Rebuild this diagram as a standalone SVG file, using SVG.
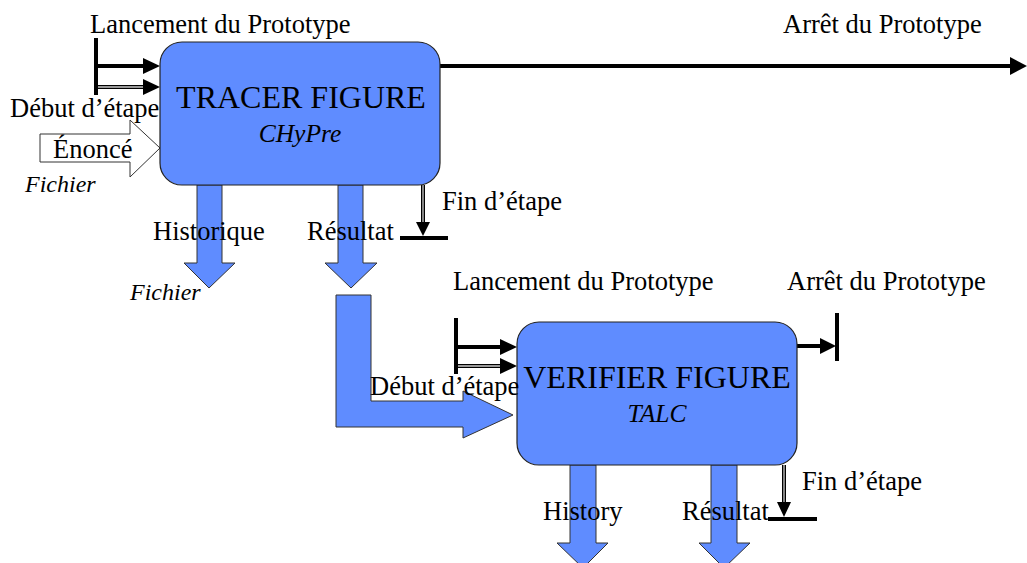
<svg xmlns="http://www.w3.org/2000/svg" width="1027" height="563" viewBox="0 0 1027 563">
<style>
.box{fill:#5F8CFF;stroke:#222;stroke-width:1.2}
.blk{fill:#5F8CFF;stroke:#333;stroke-width:1}
.wblk{fill:#fff;stroke:#333;stroke-width:1}
.t{font-family:"Liberation Serif","Times New Roman",serif;font-size:26.5px;fill:#000}
.i{font-family:"Liberation Serif","Times New Roman",serif;font-size:24px;font-style:italic;fill:#000}
.big{font-family:"Liberation Serif","Times New Roman",serif;font-size:32px;fill:#000;text-anchor:middle}
.sub{font-family:"Liberation Serif","Times New Roman",serif;font-size:25.5px;font-style:italic;fill:#000;text-anchor:middle}
.thick{stroke:#000;stroke-width:4;fill:none}
.dbl{stroke:#000;stroke-width:4;fill:none}
.dbli{stroke:#ccc;stroke-width:1.3;fill:none}
.head{fill:#000}
</style>
<g id="connectors">
  <line class="thick" x1="96" y1="38" x2="96" y2="95"/>
  <line class="thick" x1="96" y1="66" x2="145" y2="66"/>
  <polygon class="head" points="143,58 160,66 143,74"/>
  <line class="dbl" x1="96" y1="87" x2="145" y2="87"/>
  <line class="dbli" x1="98" y1="87" x2="145" y2="87"/>
  <polygon class="head" points="143,79 160,87 143,95"/>
  <line class="thick" x1="440" y1="66" x2="1012" y2="66"/>
  <polygon class="head" points="1010,57 1027,66 1010,75"/>
  <line class="dbl" x1="423" y1="185" x2="423" y2="224"/>
  <line class="dbli" x1="423" y1="185" x2="423" y2="224"/>
  <polygon class="head" points="416,222 430,222 423,236"/>
  <rect x="400" y="236" width="48" height="4" fill="#000"/>
  <line class="thick" x1="456" y1="318" x2="456" y2="374"/>
  <line class="thick" x1="456" y1="347" x2="502" y2="347"/>
  <polygon class="head" points="500,339 517,347 500,355"/>
  <line class="dbl" x1="456" y1="366" x2="502" y2="366"/>
  <line class="dbli" x1="458" y1="366" x2="502" y2="366"/>
  <polygon class="head" points="500,358 517,366 500,374"/>
  <line class="thick" x1="797" y1="346" x2="822" y2="346"/>
  <polygon class="head" points="820,338 836,346 820,354"/>
  <line class="thick" x1="837" y1="313" x2="837" y2="361"/>
  <line class="dbl" x1="784" y1="465" x2="784" y2="504"/>
  <line class="dbli" x1="784" y1="465" x2="784" y2="504"/>
  <polygon class="head" points="777,502 791,502 784,517"/>
  <rect x="768" y="517" width="49" height="4" fill="#000"/>
  <polygon class="wblk" points="40,134 130,134 130,120 160,148 130,177 130,162 40,162"/>
  <polygon class="blk" points="197,185 222,185 222,263 235,263 209,288 184,263 197,263"/>
  <polygon class="blk" points="338,185 363,185 363,263 377,263 351,288 325,263 338,263"/>
  <polygon class="blk" points="336,295 371,295 371,401 463,401 463,391 513,415 463,438 463,427 336,427"/>
  <polygon class="blk" points="570,465 596,465 596,543 608,543 583,568 557,543 570,543"/>
  <polygon class="blk" points="711,465 737,465 737,543 750,543 724,568 699,543 711,543"/>
</g>
<g id="node-tracer">
  <rect class="box" x="160" y="42" width="280" height="143" rx="22"/>
  <text class="big" x="301" y="108">TRACER FIGURE</text>
  <text class="sub" x="300" y="142">CHyPre</text>
</g>
<g id="node-verifier">
  <rect class="box" x="517" y="322" width="280" height="143" rx="22"/>
  <text class="big" x="657" y="388">VERIFIER FIGURE</text>
  <text class="sub" x="657" y="422">TALC</text>
</g>
<g id="labels">
  <text class="t" x="90" y="33">Lancement du Prototype</text>
  <text class="t" x="783" y="33">Arrêt du Prototype</text>
  <text class="t" x="10" y="117">Début d’étape</text>
  <text class="t" x="53" y="158">Énoncé</text>
  <text class="i" x="25" y="192">Fichier</text>
  <text class="t" x="442" y="210">Fin d’étape</text>
  <text class="t" x="153" y="240">Historique</text>
  <text class="t" x="307" y="240">Résultat</text>
  <text class="i" x="130" y="300">Fichier</text>
  <text class="t" x="453" y="290">Lancement du Prototype</text>
  <text class="t" x="787" y="290">Arrêt du Prototype</text>
  <text class="t" x="370" y="395">Début d’étape</text>
  <text class="t" x="543" y="520">History</text>
  <text class="t" x="682" y="520">Résultat</text>
  <text class="t" x="802" y="490">Fin d’étape</text>
</g>
</svg>
